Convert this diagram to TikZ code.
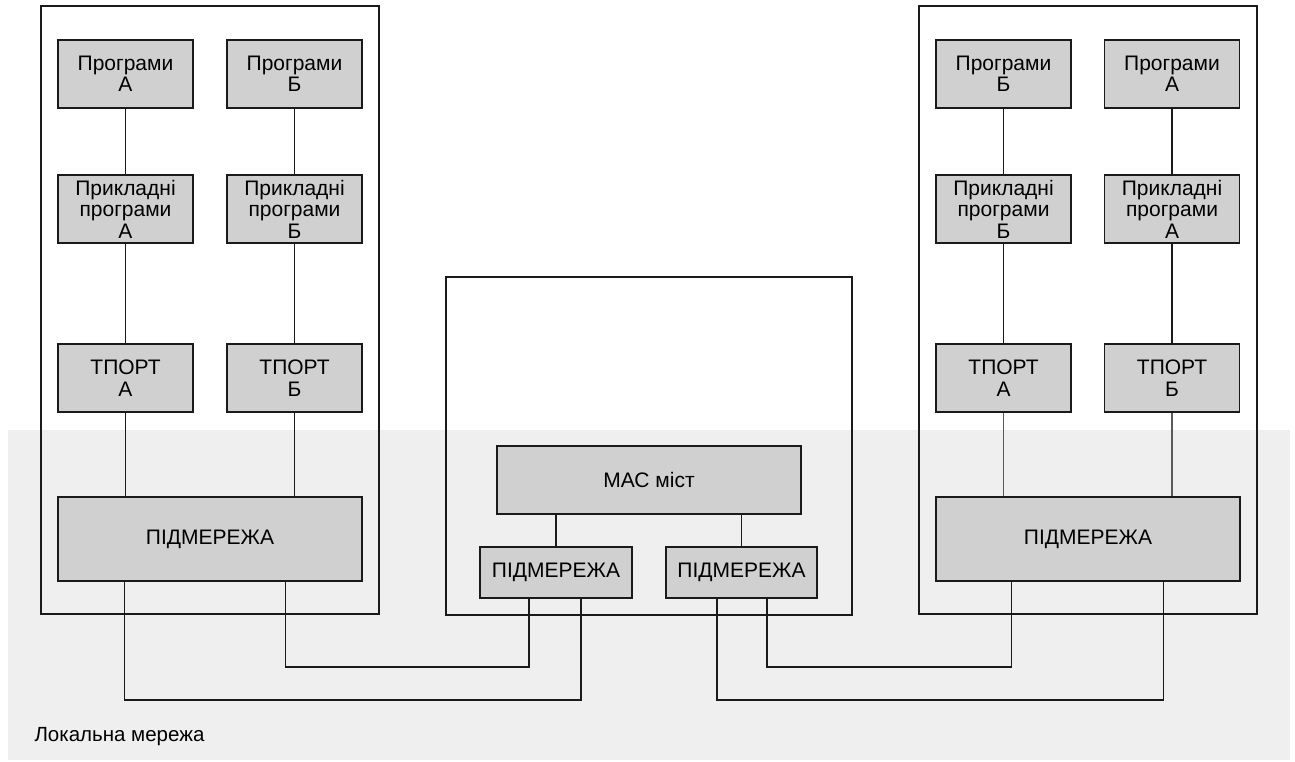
\documentclass[tikz,border=0pt]{standalone}
\usepackage{fontspec}
\setmainfont{Liberation Sans}
\usetikzlibrary{calc}
\definecolor{lan}{HTML}{EFEFEF}
\definecolor{boxfill}{HTML}{D0D0D0}
\definecolor{ink}{HTML}{1A1A1A}
\tikzset{
  layer/.style={draw=ink, line width=1.6pt, fill=boxfill, rectangle, inner sep=0pt,
    align=center, font=\fontsize{21}{21.5}\selectfont, minimum width=135pt, minimum height=68pt},
  host/.style={draw=ink, line width=1.5pt, rectangle, inner sep=0pt},
  link/.style={draw=ink, line width=1.4pt},
  glink/.style={draw=black!65, line width=1.4pt}
}
\begin{document}
\begin{tikzpicture}[x=1pt,y=-1pt]
\useasboundingbox (0,0) rectangle (1295,762);
\fill[white] (0,0) rectangle (1295,762);
% LAN background
\fill[lan] (8,430) rectangle (1290,760);
\node[anchor=base west, font=\fontsize{20.5}{22}\selectfont] (lanlbl) at (31,741) {Локальна мережа};

% host frames
\node[host, minimum width=338pt, minimum height=608pt] (hl) at (210,310) {};
\node[host, minimum width=406pt, minimum height=338pt] (hm) at (649,446) {};
\node[host, minimum width=338pt, minimum height=608pt] (hr) at (1088,310) {};

% left host
\node[layer] (la1) at (125.5,74) {Програми\\А};
\node[layer] (lb1) at (294.5,74) {Програми\\Б};
\node[layer] (la2) at (125.5,209) {Прикладні\\програми\\А};
\node[layer] (lb2) at (294.5,209) {Прикладні\\програми\\Б};
\node[layer] (la3) at (125.5,378) {ТПОРТ\\А};
\node[layer] (lb3) at (294.5,378) {ТПОРТ\\Б};
\node[layer, minimum width=304pt, minimum height=84pt] (lp) at (210,539) {ПІДМЕРЕЖА};

% right host
\node[layer] (rb1) at (1003.5,74) {Програми\\Б};
\node[layer] (ra1) at (1172,74) {Програми\\А};
\node[layer] (rb2) at (1003.5,209) {Прикладні\\програми\\Б};
\node[layer] (ra2) at (1172,209) {Прикладні\\програми\\А};
\node[layer] (ra3) at (1003.5,378) {ТПОРТ\\А};
\node[layer] (rb3) at (1172,378) {ТПОРТ\\Б};
\node[layer, minimum width=304pt, minimum height=84pt] (rp) at (1088,539) {ПІДМЕРЕЖА};

% bridge
\node[layer, minimum width=304pt, minimum height=68pt] (mac) at (649,480) {МАС міст};
\node[layer, minimum width=152pt, minimum height=51pt] (sl) at (556,572.5) {ПІДМЕРЕЖА};
\node[layer, minimum width=151pt, minimum height=51pt] (sr) at (741.5,572.5) {ПІДМЕРЕЖА};

% vertical stacks
\draw[link] (la1) -- (la2);
\draw[link] (la2) -- (la3);
\draw[link] (la3.south) -- (la3.south |- lp.north);
\draw[link] (lb1) -- (lb2);
\draw[link] (lb2) -- (lb3);
\draw[link] (lb3.south) -- (lb3.south |- lp.north);
\draw[link] (rb1) -- (rb2);
\draw[link] (rb2) -- (ra3);
\draw[link] (ra1) -- (ra2);
\draw[link] (ra2) -- (rb3);
\draw[glink] (ra3.south) -- (ra3.south |- rp.north);
\draw[glink] (rb3.south) -- (rb3.south |- rp.north);
\draw[link] (sl.north |- mac.south) -- (sl.north);
\draw[link] (sr.north |- mac.south) -- (sr.north);

% LAN cabling
\draw[link] ($(lp.south west)+(67.5,0)$) |- ($(sl.south)+(25,101)$) -- ($(sl.south)+(25,0)$);
\draw[link] ($(lp.south west)+(228,0)$) |- ($(sl.south)+(-27,68)$) -- ($(sl.south)+(-27,0)$);
\draw[link] ($(sr.south)+(-24.5,0)$) |- ($(rp.south west)+(228,118)$) -- ($(rp.south west)+(228,0)$);
\draw[link] ($(sr.south)+(25.5,0)$) |- ($(rp.south west)+(76,85)$) -- ($(rp.south west)+(76,0)$);
\end{tikzpicture}
\end{document}
